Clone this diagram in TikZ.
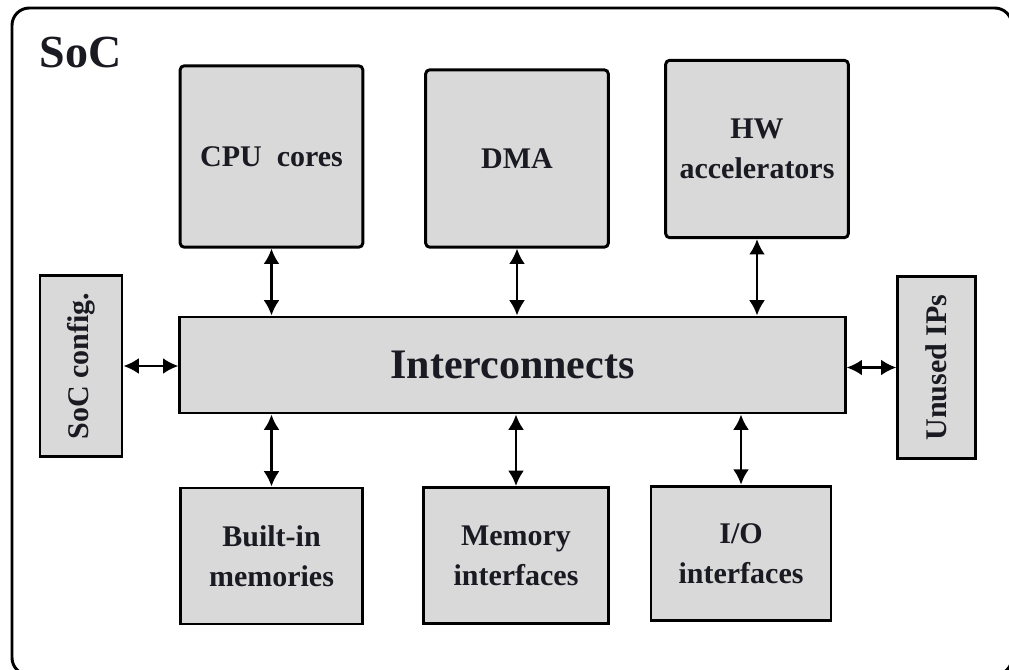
\documentclass[tikz,border=0pt]{standalone}
\usepackage{fontspec}
\setmainfont{Liberation Serif}
\usepackage{tikz}
\usetikzlibrary{positioning}
\usetikzlibrary{arrows.meta}
\definecolor{boxgray}{HTML}{D9D9D9}
\definecolor{inkdark}{HTML}{1A1A22}
\tikzset {
  % grey block with bold label
  block/.style = {draw=black, fill=boxgray, line width=2.2pt, text=inkdark,
    font=\bfseries\fontsize{22.5}{30}\selectfont, align=center, inner sep=0pt},
  % masters on top row have slightly rounded corners
  topblock/.style = {block, rounded corners=3pt, minimum width=137pt, minimum height=133pt},
  % slaves on bottom row
  lowblock/.style = {block, minimum width=137pt, minimum height=102pt},
  % narrow blocks at the sides
  sideblock/.style = {block, minimum width=60pt, minimum height=136pt},
  % bus in the middle
  bus/.style = {block, font=\bfseries\fontsize{31.5}{36}\selectfont, minimum width=499pt, minimum height=72pt},
  % two way links
  link/.style = {<->, line width=2pt, >={Latex[length=11.5pt,width=12pt]}},
}

\begin{document}
\begin{tikzpicture}[x=0.75pt, y=-0.75pt]
  \useasboundingbox (0,0) rectangle (1009,670);
  \begin{scope}
    \clip (0,0) rectangle (1009,670);
    \draw[line width=2.2pt, rounded corners=13pt] (12,8) rectangle (1012,675);
  \end{scope}
  \node[anchor=base west, text=inkdark, font=\bfseries\fontsize{34.5}{40}\selectfont] (title) at (35,68) {SoC};

  \node[bus] (ic) at (512.5,365) {Interconnects};

  \node[topblock, minimum height=136pt] (cpu) at (271.5,156.5) {CPU\ \ cores};
  \node[topblock] (dma) at (517,158.5) {DMA};
  \node[topblock] (hwacc) at (757,149) {HW\\accelerators};

  \node[lowblock] (bmem) at (271.5,556) {Built-in\\memories};
  \node[lowblock, minimum width=139pt] (memif) at (516,555.5) {Memory\\interfaces};
  \node[lowblock, minimum width=135pt, minimum height=101pt] (ioif) at (741,553.5) {I/O\\interfaces};

  \node[sideblock, minimum width=61.5pt] (cfg) at (81,366) {\rotatebox{90}{SoC config.}};
  \node[sideblock, minimum width=58pt] (unused) at (936.5,367.5) {\rotatebox{90}{Unused IPs}};

  \draw[link] (cpu.south) -- (cpu.south |- ic.north);
  \draw[link] (dma.south) -- (dma.south |- ic.north);
  \draw[link] (hwacc.south) -- (hwacc.south |- ic.north);
  \draw[link] (bmem.north) -- (bmem.north |- ic.south);
  \draw[link] (memif.north) -- (memif.north |- ic.south);
  \draw[link] (ioif.north) -- (ioif.north |- ic.south);
  \draw[link] (cfg.east) -- (cfg.east -| ic.west);
  \draw[link] (unused.west) -- (unused.west -| ic.east);
\end{tikzpicture}
\end{document}
